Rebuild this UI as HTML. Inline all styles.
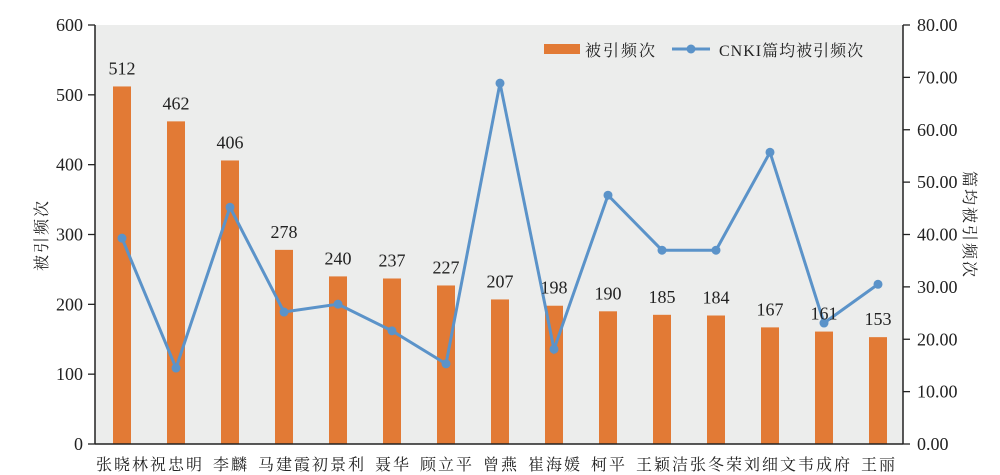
<!DOCTYPE html>
<html><head><meta charset="utf-8"><style>
html,body{margin:0;padding:0;background:#fff;}
svg{display:block;}
.n{font-family:"Liberation Serif",serif;font-size:18px;fill:#222;}
.c{font-family:"Liberation Serif","Noto Serif CJK SC",serif;font-size:16px;fill:#222;letter-spacing:2px;}
</style></head><body>
<svg width="1000" height="475" xmlns="http://www.w3.org/2000/svg">
<rect x="95" y="25" width="808" height="419" fill="#ecedec"/>
<g id="bars" fill="#e27a35"></g>
<polyline id="ln" fill="none" stroke="#5b93c9" stroke-width="3" points=""/>
<g id="dots" fill="#5b93c9"></g>
<g id="lbl"></g>
<line x1="95" y1="25" x2="95" y2="444" stroke="#222" stroke-width="1.5"/>
<line x1="903" y1="25" x2="903" y2="444" stroke="#222" stroke-width="1.5"/>
<line x1="95" y1="444" x2="903" y2="444" stroke="#222" stroke-width="1.5"/>
<g id="ticks" stroke="#222" stroke-width="1.3"></g>
<g id="tl"></g>
<rect x="544" y="44" width="36" height="10" fill="#e27a35"/>
<text class="c" x="585" y="56">被引频次</text>
<line x1="672" y1="49" x2="710" y2="49" stroke="#5b93c9" stroke-width="3"/>
<circle cx="691" cy="49" r="4.5" fill="#5b93c9"/>
<text class="c" x="719" y="56" style="letter-spacing:1px">CNKI篇均被引频次</text>
<text class="c" transform="translate(47,235) rotate(-90)" text-anchor="middle">被引频次</text>
<text class="c" transform="translate(964,225) rotate(90)" text-anchor="middle">篇均被引频次</text>
</svg>
<script>
var names=["张晓林","祝忠明","李麟","马建霞","初景利","聂华","顾立平","曾燕","崔海媛","柯平","王颖洁","张冬荣","刘细文","韦成府","王丽"];
var v=[512,462,406,278,240,237,227,207,198,190,185,184,167,161,153];
var r=[39.3,14.5,45.2,25.2,26.7,21.6,15.3,68.9,18.1,47.5,37,37,55.7,23.1,30.5];
var ns="http://www.w3.org/2000/svg";
function el(t,a,p,txt){var e=document.createElementNS(ns,t);for(var k in a)e.setAttribute(k,a[k]);if(txt)e.textContent=txt;document.getElementById(p).appendChild(e);}
var pts=[];
for(var i=0;i<15;i++){var cx=95+54*(i+0.5);var y=444-v[i]*419/600;
el("rect",{x:cx-9,y:y,width:18,height:444-y},"bars");
el("text",{x:cx,y:y-12,"text-anchor":"middle","class":"n"},"lbl",String(v[i]));
el("text",{x:cx+1,y:470,"text-anchor":"middle","class":"c"},"lbl",names[i]);
var ry=444-r[i]*419/80;pts.push(cx+","+ry);el("circle",{cx:cx,cy:ry,r:4.5},"dots");}
document.getElementById("ln").setAttribute("points",pts.join(" "));
for(var j=0;j<=6;j++){var y=444-j*419/6;el("line",{x1:88,y1:y,x2:95,y2:y},"ticks");
el("text",{x:83,y:y+6,"text-anchor":"end","class":"n"},"tl",String(j*100));}
for(var j=0;j<=8;j++){var y=444-j*419/8;el("line",{x1:903,y1:y,x2:910,y2:y},"ticks");
el("text",{x:917,y:y+6,"class":"n"},"tl",(j*10).toFixed(2));}
</script>
</body></html>
